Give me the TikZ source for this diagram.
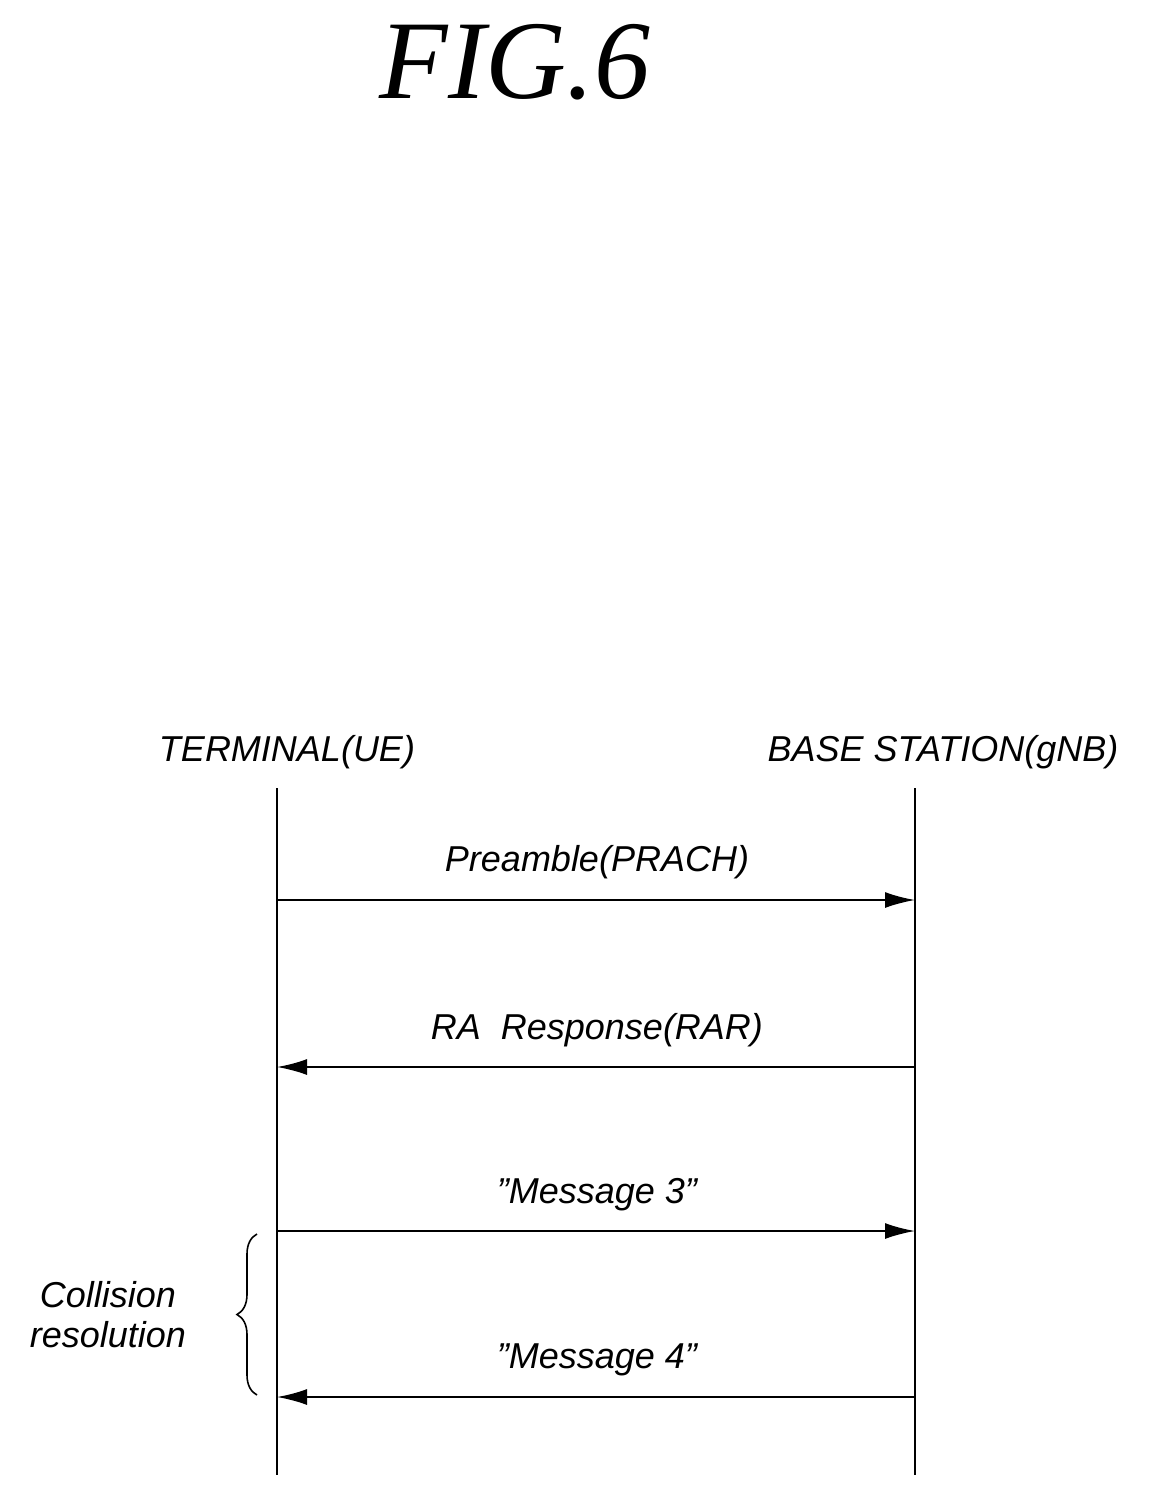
\documentclass[tikz,border=0pt]{standalone}
\usepackage{fontspec}
\setmainfont{Liberation Serif}
\setsansfont{Liberation Sans}
\usetikzlibrary{arrows.meta,decorations.pathreplacing}
\begin{document}
\begin{tikzpicture}[x=0.5pt,y=-0.5pt,
  lbl/.style={font=\sffamily\itshape\fontsize{18}{20}\selectfont},
  msg/.style={line width=1pt,-{Latex[length=15pt,width=8pt]}},
  life/.style={line width=1.2pt}]
\useasboundingbox (0,0) rectangle (1156,1496);
\node (title) at (515,62) {\fontsize{56}{60}\selectfont\itshape FIG.6};
\node[lbl] (ue) at (287,752) {TERMINAL(UE)};
\node[lbl] (gnb) at (943,752) {BASE STATION(gNB)};
\coordinate (ut) at (277,788); \coordinate (ub) at (277,1475);
\coordinate (gt) at (915,788); \coordinate (gb) at (915,1475);
\draw[life] (ut) -- (ub);
\draw[life] (gt) -- (gb);
\coordinate (a1) at (277,900); \coordinate (b1) at (915,900);
\coordinate (a2) at (277,1067); \coordinate (b2) at (915,1067);
\coordinate (a3) at (277,1231); \coordinate (b3) at (915,1231);
\coordinate (a4) at (277,1397); \coordinate (b4) at (915,1397);
\draw[msg] (a1) -- (b1);
\draw[msg] (b2) -- (a2);
\draw[msg] (a3) -- (b3);
\draw[msg] (b4) -- (a4);
\node[lbl] (m1) at (597,862) {Preamble(PRACH)};
\node[lbl] (m2) at (597,1030) {RA\ \ Response(RAR)};
\node[lbl] (m3) at (597,1195) {"Message 3"};
\node[lbl] (m4) at (597,1360) {"Message 4"};
\coordinate (bt) at (257,1234); \coordinate (bb) at (257,1395);
\draw[line width=0.8pt,decorate,decoration={brace,amplitude=10pt}] (bb) -- (bt);
\node[lbl,align=center] (cr) at (108,1315) {Collision\\resolution};
\end{tikzpicture}
\end{document}
